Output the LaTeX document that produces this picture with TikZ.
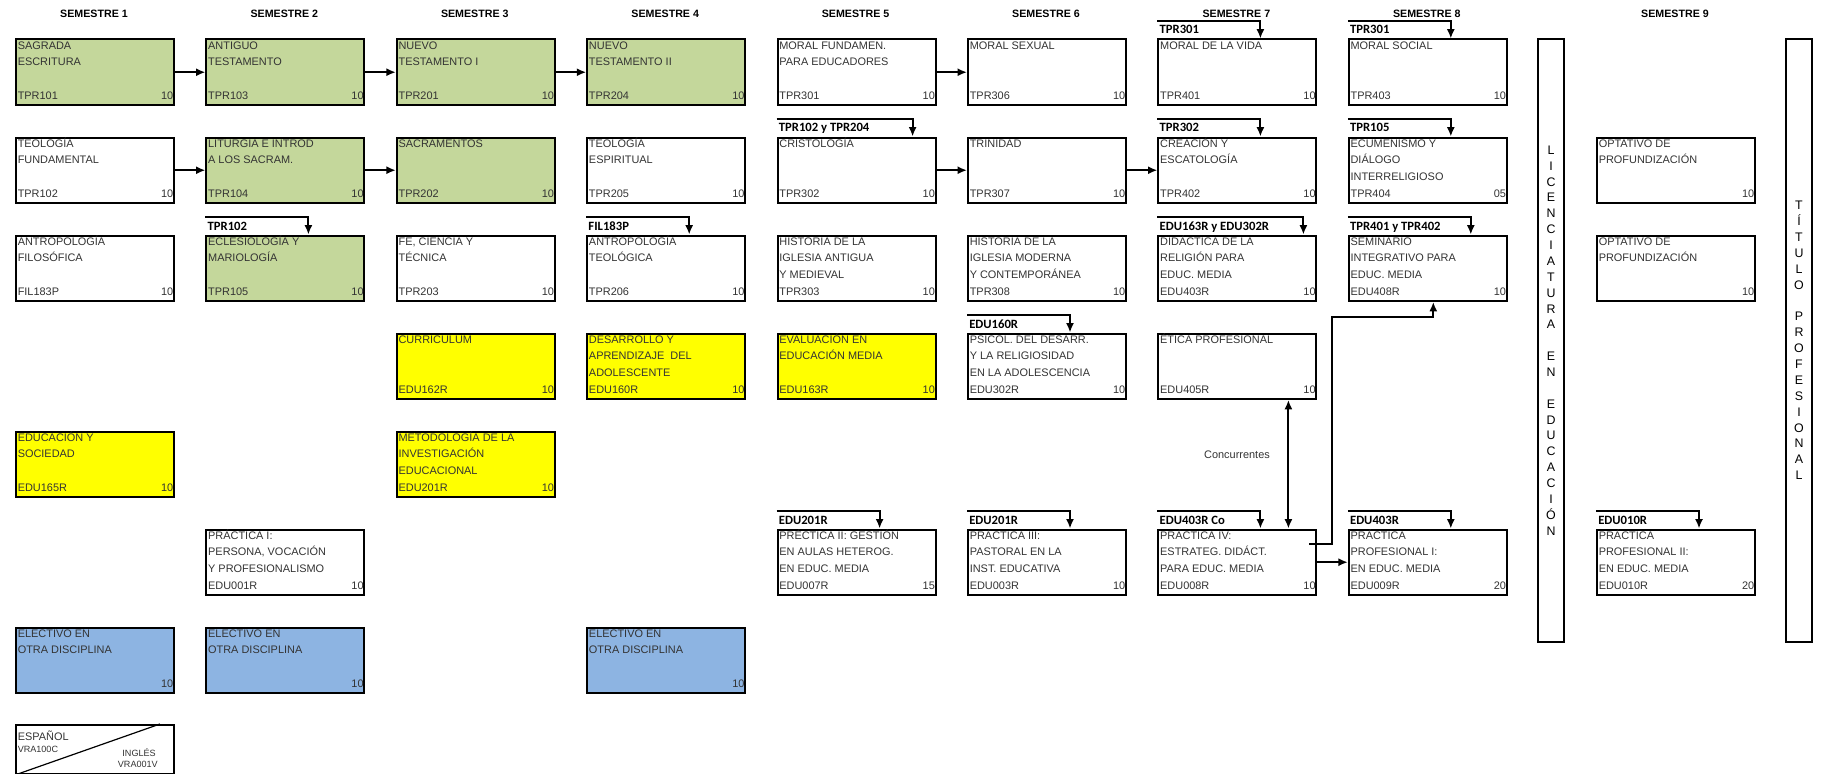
\documentclass[tikz,border=0pt]{standalone}
\usepackage{fontspec}
\setmainfont{Liberation Sans}
\newfontfamily\calibri{Carlito}
\usepackage{xcolor}
\usepackage{tikz}
\usetikzlibrary{arrows.meta}
\usetikzlibrary{positioning}
\usetikzlibrary{calc}

\definecolor{verde}{HTML}{C4D79B}
\definecolor{amarillo}{HTML}{FFFF00}
\definecolor{azul}{HTML}{8DB4E2}
\definecolor{gristexto}{HTML}{333333}

% caja de un curso: nombre, x, y, relleno, lineas del titulo, sigla, creditos
\newcommand{\curso}[7]{
  \node[caja,fill=#4] (#1) at (#2,#3) {};
  \foreach \lin [count=\k] in {#5}
    \node[texto] at ($(#1.north west)+(2.5,{10.6+16.7*(\k-1)})$) {\lin};
  \node[texto] at ($(#1.north west)+(2.5,60.5)$) {#6};
  \node[texto,anchor=base east] at ($(#1.north east)+(-1.5,60.5)$) {#7};
}
% requisito sobre la caja: curso, texto, distancia de la flecha
\newcommand{\requisito}[3]{
  \coordinate (#1-req) at ($(#1.north west)+(0,-17.5)$);
  \draw[flecha] (#1-req) -| ($(#1.north west)+(#3,0)$);
  \node[etiqueta] at ($(#1.north west)+(2,-4.5)$) {#2};
}

\begin{document}
\begin{tikzpicture}[x=0.75pt,y=-0.75pt,
    caja/.style={draw,line width=1.5pt,anchor=north west,inner sep=0pt,minimum width=118.5pt,minimum height=49.1pt},
    texto/.style={anchor=base west,inner sep=0pt,font=\fontsize{8.2}{9}\selectfont,text=gristexto},
    etiqueta/.style={anchor=base west,inner sep=0pt,font=\calibri\bfseries\fontsize{9.5}{11}\selectfont},
    semestre/.style={font=\bfseries\fontsize{8}{10}\selectfont},
    linea/.style={line width=1.5pt},
    flecha/.style={line width=1.5pt,-{Latex[length=7pt,width=6pt]}},
    doble/.style={line width=1.5pt,{Latex[length=7pt,width=6pt]}-{Latex[length=7pt,width=6pt]}},
    barra/.style={draw,line width=1.5pt,minimum width=19.5pt,minimum height=452pt,align=center,font=\fontsize{9.3}{11.9}\selectfont}]
    \useasboundingbox (0,0) rectangle (1828,774);

    % encabezados
    \foreach \n [count=\i from 0] in {1,...,8}
        \node[semestre] (sem\n) at ({94+190.4*\i},14) {SEMESTRE \n};
    \node[semestre] (sem9) at (1675,14) {SEMESTRE 9};

    % semestre 1
    \curso{sagrada}{15}{38.5}{verde}{SAGRADA,ESCRITURA}{TPR101}{10}
    \curso{teofund}{15}{136.5}{white}{TEOLOGÍA,FUNDAMENTAL}{TPR102}{10}
    \curso{antrofil}{15}{234.5}{white}{ANTROPOLOGÍA,FILOSÓFICA}{FIL183P}{10}
    \curso{educsoc}{15}{430.5}{amarillo}{EDUCACIÓN Y,SOCIEDAD}{EDU165R}{10}
    \curso{elect1}{15}{626.5}{azul}{ELECTIVO EN,OTRA DISCIPLINA}{}{10}
    % semestre 2
    \curso{antiguo}{205.4}{38.5}{verde}{ANTIGUO,TESTAMENTO}{TPR103}{10}
    \curso{liturgia}{205.4}{136.5}{verde}{LITURGIA E INTROD,A LOS SACRAM.}{TPR104}{10}
    \curso{eclesio}{205.4}{234.5}{verde}{ECLESIOLOGÍA Y,MARIOLOGÍA}{TPR105}{10}
    \curso{practI}{205.4}{528.5}{white}{PRÁCTICA I:,{PERSONA, VOCACIÓN},Y PROFESIONALISMO}{EDU001R}{10}
    \curso{elect2}{205.4}{626.5}{azul}{ELECTIVO EN,OTRA DISCIPLINA}{}{10}
    % semestre 3
    \curso{nuevoI}{395.8}{38.5}{verde}{NUEVO,TESTAMENTO I}{TPR201}{10}
    \curso{sacram}{395.8}{136.5}{verde}{SACRAMENTOS}{TPR202}{10}
    \curso{fecien}{395.8}{234.5}{white}{{FE, CIENCIA Y},TÉCNICA}{TPR203}{10}
    \curso{curric}{395.8}{332.5}{amarillo}{CURRICULUM}{EDU162R}{10}
    \curso{metodo}{395.8}{430.5}{amarillo}{METODOLOGÍA DE LA,INVESTIGACIÓN,EDUCACIONAL}{EDU201R}{10}
    % semestre 4
    \curso{nuevoII}{586.2}{38.5}{verde}{NUEVO,TESTAMENTO II}{TPR204}{10}
    \curso{teoesp}{586.2}{136.5}{white}{TEOLOGÍA,ESPIRITUAL}{TPR205}{10}
    \curso{antroteo}{586.2}{234.5}{white}{ANTROPOLOGÍA,TEOLÓGICA}{TPR206}{10}
    \curso{desarr}{586.2}{332.5}{amarillo}{DESARROLLO Y,APRENDIZAJE\ \ DEL,ADOLESCENTE}{EDU160R}{10}
    \curso{elect4}{586.2}{626.5}{azul}{ELECTIVO EN,OTRA DISCIPLINA}{}{10}
    % semestre 5
    \curso{moralfund}{776.6}{38.5}{white}{MORAL FUNDAMEN.,PARA EDUCADORES}{TPR301}{10}
    \curso{cristo}{776.6}{136.5}{white}{CRISTOLOGÍA}{TPR302}{10}
    \curso{histant}{776.6}{234.5}{white}{HISTORIA DE LA,IGLESIA ANTIGUA,Y MEDIEVAL}{TPR303}{10}
    \curso{evalua}{776.6}{332.5}{amarillo}{EVALUACIÓN EN,EDUCACIÓN MEDIA}{EDU163R}{10}
    \curso{practII}{776.6}{528.5}{white}{PRÉCTICA II: GESTIÓN,EN AULAS HETEROG.,EN EDUC. MEDIA}{EDU007R}{15}
    % semestre 6
    \curso{moralsex}{967}{38.5}{white}{MORAL SEXUAL}{TPR306}{10}
    \curso{trinidad}{967}{136.5}{white}{TRINIDAD}{TPR307}{10}
    \curso{histmod}{967}{234.5}{white}{HISTORIA DE LA,IGLESIA MODERNA,Y CONTEMPORÁNEA}{TPR308}{10}
    \curso{psicol}{967}{332.5}{white}{PSICOL. DEL DESARR.,Y LA RELIGIOSIDAD,EN LA ADOLESCENCIA}{EDU302R}{10}
    \curso{practIII}{967}{528.5}{white}{PRÁCTICA III:,PASTORAL EN LA,INST. EDUCATIVA}{EDU003R}{10}
    % semestre 7
    \curso{moralvida}{1157.4}{38.5}{white}{MORAL DE LA VIDA}{TPR401}{10}
    \curso{creacion}{1157.4}{136.5}{white}{CREACIÓN Y,ESCATOLOGÍA}{TPR402}{10}
    \curso{didact}{1157.4}{234.5}{white}{DIDÁCTICA DE LA,RELIGIÓN PARA,EDUC. MEDIA}{EDU403R}{10}
    \curso{etica}{1157.4}{332.5}{white}{ÉTICA PROFESIONAL}{EDU405R}{10}
    \curso{practIV}{1157.4}{528.5}{white}{PRÁCTICA IV:,ESTRATEG. DIDÁCT.,PARA EDUC. MEDIA}{EDU008R}{10}
    % semestre 8
    \curso{moralsoc}{1347.8}{38.5}{white}{MORAL SOCIAL}{TPR403}{10}
    \curso{ecumen}{1347.8}{136.5}{white}{ECUMENISMO Y,DIÁLOGO,INTERRELIGIOSO}{TPR404}{05}
    \curso{seminario}{1347.8}{234.5}{white}{SEMINARIO,INTEGRATIVO PARA,EDUC. MEDIA}{EDU408R}{10}
    \curso{profI}{1347.8}{528.5}{white}{PRÁCTICA,PROFESIONAL I:,EN EDUC. MEDIA}{EDU009R}{20}
    % semestre 9
    \curso{optat1}{1596}{136.5}{white}{OPTATIVO DE,PROFUNDIZACIÓN}{}{10}
    \curso{optat2}{1596}{234.5}{white}{OPTATIVO DE,PROFUNDIZACIÓN}{}{10}
    \curso{profII}{1596}{528.5}{white}{PRÁCTICA,PROFESIONAL II:,EN EDUC. MEDIA}{EDU010R}{20}

    % idiomas
    \node[caja,minimum height=36.75pt] (idioma) at (15,724) {};
    \draw[line width=0.9pt] (idioma.south west) -- ($(idioma.north east)+(-15,0)$);
    \node[texto] at ($(idioma.north west)+(2.5,16.3)$) {ESPAÑOL};
    \node[texto,font=\fontsize{6.8}{8}\selectfont] at ($(idioma.north west)+(2.5,28.6)$) {VRA100C};
    \node[texto,anchor=base east,font=\fontsize{6.8}{8}\selectfont] at ($(idioma.north east)+(-19,32.6)$) {INGLÉS};
    \node[texto,anchor=base east,font=\fontsize{6.8}{8}\selectfont] at ($(idioma.north east)+(-17,43.6)$) {VRA001V};

    % barras de grado
    \node[barra] (lic) at (1551,340.5) {L\\I\\C\\E\\N\\C\\I\\A\\T\\U\\R\\A\\\mbox{}\\E\\N\\\mbox{}\\E\\D\\U\\C\\A\\C\\I\\Ó\\N};
    \node[barra] (titulo) at (1799,340.5) {T\\Í\\T\\U\\L\\O\\\mbox{}\\P\\R\\O\\F\\E\\S\\I\\O\\N\\A\\L};

    % requisitos
    \requisito{eclesio}{TPR102}{103}
    \requisito{antroteo}{FIL183P}{103}
    \requisito{cristo}{TPR102 y TPR204}{136}
    \requisito{practII}{EDU201R}{103}
    \requisito{psicol}{EDU160R}{103}
    \requisito{practIII}{EDU201R}{103}
    \requisito{moralvida}{TPR301}{103}
    \requisito{creacion}{TPR302}{103}
    \requisito{didact}{EDU163R y EDU302R}{146}
    \requisito{practIV}{EDU403R Co}{103}
    \requisito{moralsoc}{TPR301}{103}
    \requisito{ecumen}{TPR105}{103}
    \requisito{seminario}{TPR401 y TPR402}{123}
    \requisito{profI}{EDU403R}{103}
    \requisito{profII}{EDU010R}{103}

    % secuencias
    \foreach \a/\b in {sagrada/antiguo,antiguo/nuevoI,nuevoI/nuevoII,teofund/liturgia,liturgia/sacram,
                       moralfund/moralsex,cristo/trinidad,trinidad/creacion,practIV/profI}
        \draw[flecha] (\a) -- (\b);

    % concurrentes
    \draw[doble] ($(etica.south west)+(131,0)$) -- ($(practIV.north west)+(131,0)$);
    \node[texto,anchor=base] (conc) at (1237,458.6) {Concurrentes};

    \coordinate (sal) at ($(practIV.north west)+(152,15.5)$);
    \coordinate (codo) at (1331.5,316.5);
    \draw[flecha] (sal) -| (codo) -| ($(seminario.south west)+(85.5,0)$);
\end{tikzpicture}
\end{document}
